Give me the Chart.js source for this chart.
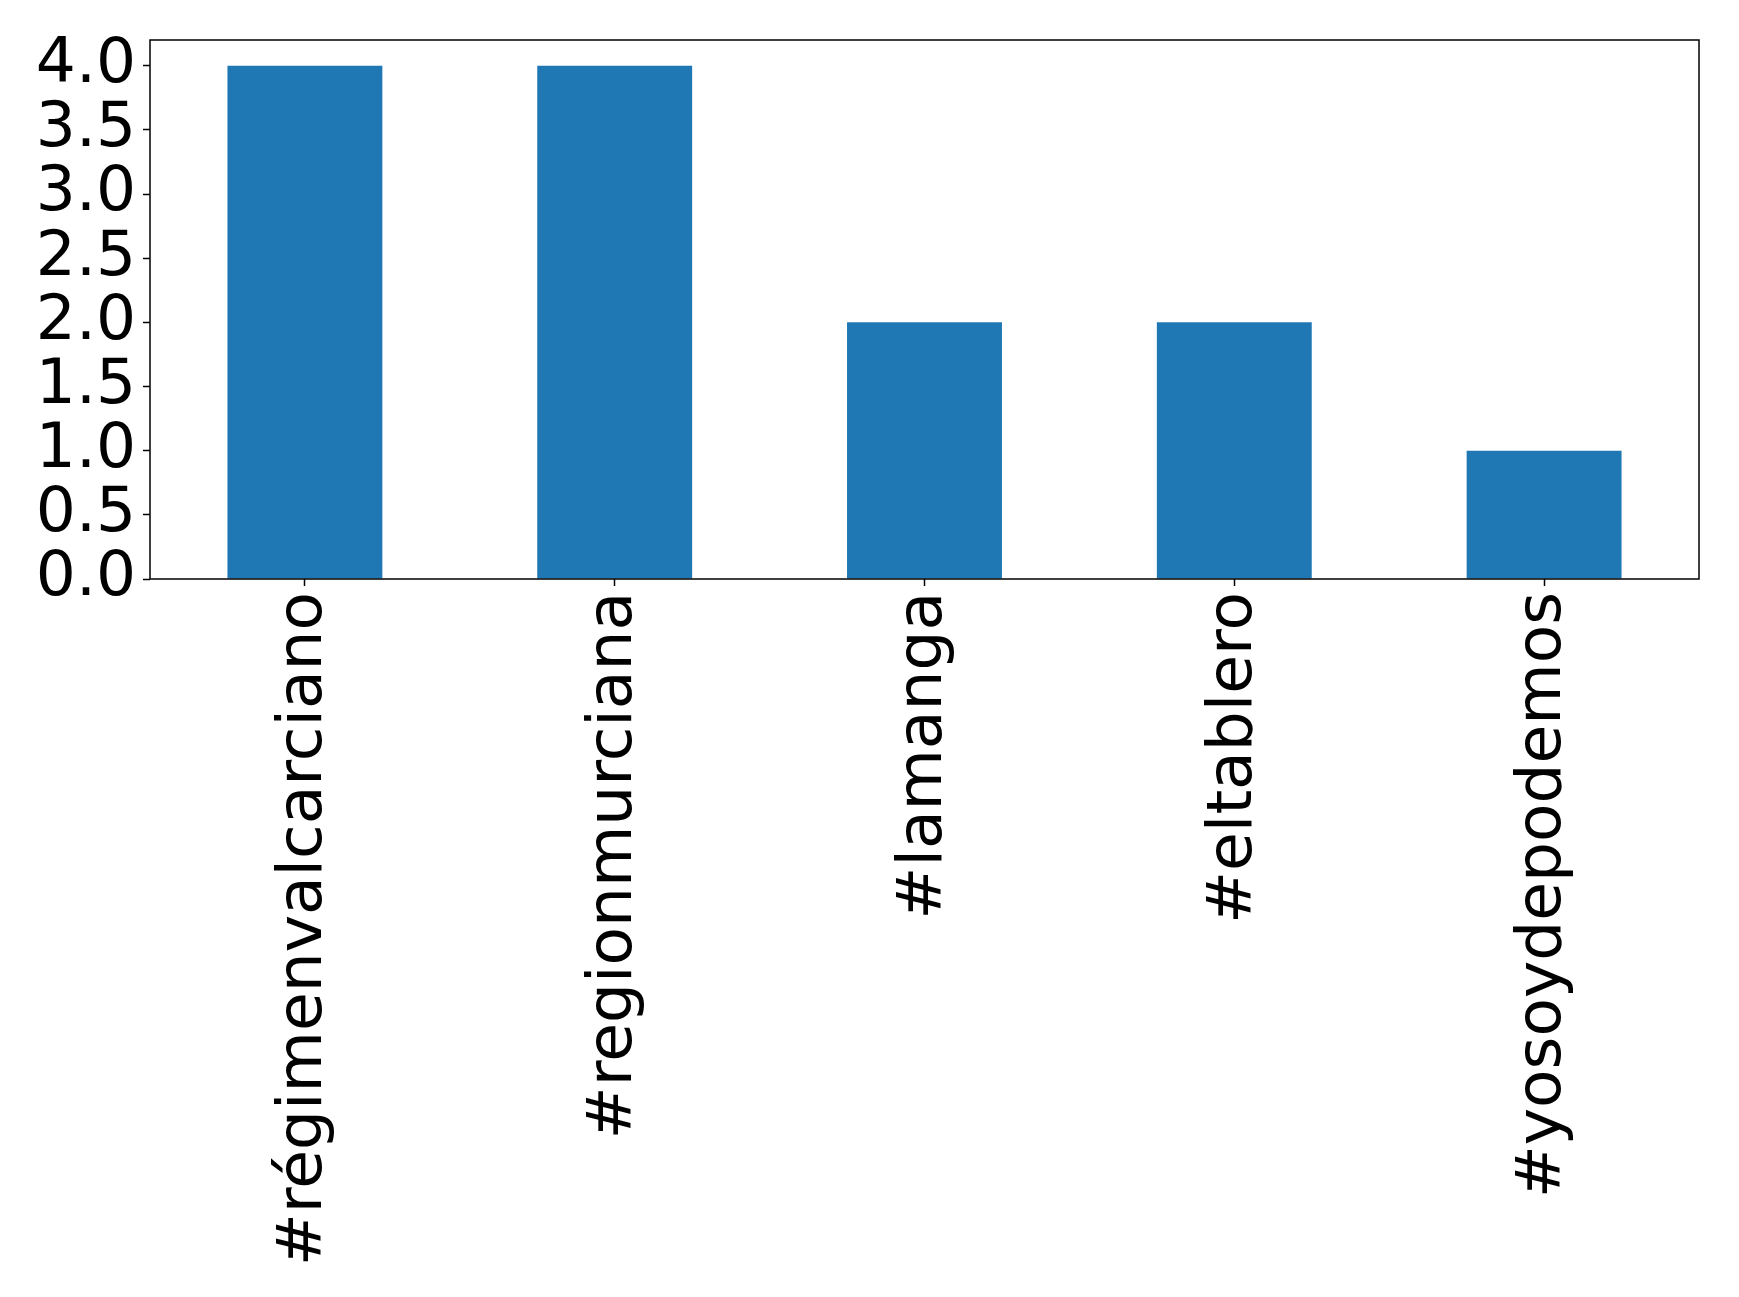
<!DOCTYPE html>
<html>
<head>
<meta charset="utf-8">
<script src="https://cdn.jsdelivr.net/npm/chart.js@4"></script>
<style>
  html, body { margin: 0; padding: 0; background: #fff; }
  #wrap { width: 1739px; height: 1297px; }
</style>
</head>
<body>
<div id="wrap"><canvas id="chart1" width="1739" height="1297"></canvas></div>
<script>
// hashtag counts
var categories = ['#régimenvalcarciano', '#regionmurciana', '#lamanga', '#eltablero', '#yosoydepodemos'];
var counts = [4, 4, 2, 2, 1];
var yTicks = [0, 0.5, 1, 1.5, 2, 2.5, 3, 3.5, 4];

// draw the box round the plot area (matplotlib style spines)
var frame = {
  id: 'frame',
  afterDatasetsDraw: function (chart) {
    var a = chart.chartArea, c = chart.ctx;
    c.save();
    c.strokeStyle = '#000';
    c.lineWidth = 1.5;
    c.strokeRect(a.left, a.top, a.right - a.left, a.bottom - a.top);
    c.restore();
  }
};

var ctx = document.getElementById('chart1').getContext('2d');
var myChart = new Chart(ctx, {
  type: 'bar',
  data: {
    labels: categories,
    datasets: [{
      data: counts,
      backgroundColor: '#1f77b4',
      categoryPercentage: 1.0,
      barPercentage: 0.5
    }]
  },
  options: {
    responsive: false,
    animation: false,
    layout: { padding: { left: 0, top: 40, right: 40, bottom: 0 } },
    plugins: { legend: { display: false }, tooltip: { enabled: false } },
    scales: {
      x: {
        offset: true,
        grid: { display: true, offset: false, drawOnChartArea: false, tickLength: 7, tickColor: '#000', tickWidth: 1.5 },
        border: { display: false },
        afterFit: function (s) {
          s.height = 718;
          s.paddingLeft = 0;
          s.paddingRight = 0;
        },
        ticks: {
          color: '#000',
          font: { family: 'DejaVu Sans', size: 63 },
          minRotation: 90,
          maxRotation: 90,
          autoSkip: false,
          padding: 6
        }
      },
      y: {
        min: 0,
        max: 4.2,
        afterFit: function (s) {
          s.width = 150;
          s.paddingTop = 0;
          s.paddingBottom = 0;
        },
        afterBuildTicks: function (s) {
          s.ticks = yTicks.map(function (v) { return { value: v }; });
        },
        grid: { display: true, drawOnChartArea: false, tickLength: 7, tickColor: '#000', tickWidth: 1.5 },
        border: { display: false },
        ticks: {
          color: '#000',
          font: { family: 'DejaVu Sans', size: 63 },
          padding: 7,
          autoSkip: false,
          callback: function (v) { return Number(v).toFixed(1); }
        }
      }
    }
  },
  plugins: [frame]
});
</script>
</body>
</html>
